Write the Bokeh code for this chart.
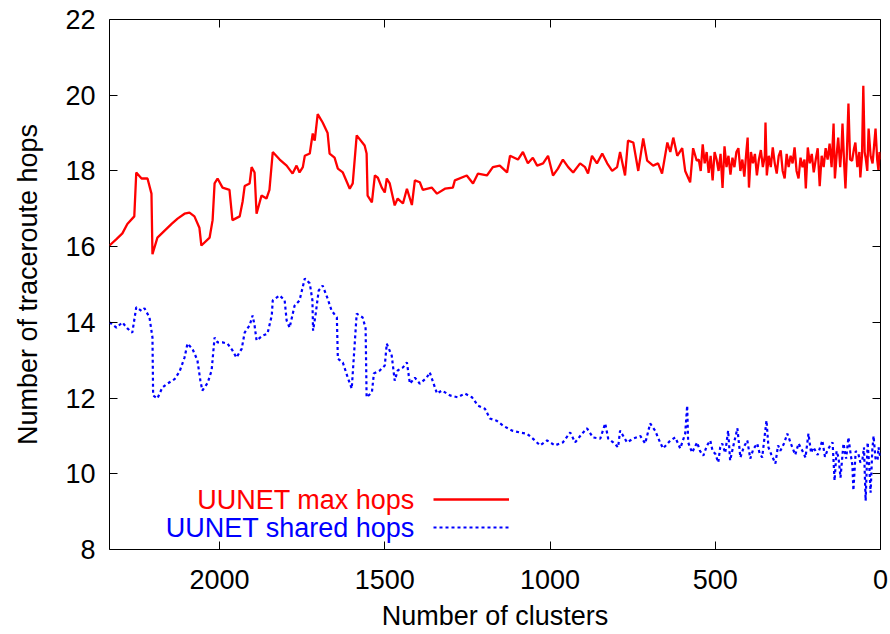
from bokeh.plotting import figure
from bokeh.models import (Range1d, FixedTicker, LinearAxis, Label, Legend, LegendItem)
from bokeh.embed import file_html
from bokeh.resources import INLINE

# ---------------- data ----------------
max_x = [2333, 2312, 2294, 2279, 2258, 2252, 2236, 2218, 2206, 2203, 2188, 2145, 2127, 2106, 2091,
         2076, 2061, 2055, 2030, 2021, 2015, 2006, 1991, 1970, 1961, 1939, 1930, 1924, 1909, 1903,
         1894, 1888, 1873, 1858, 1849, 1839, 1818, 1797, 1779, 1767, 1758, 1748, 1742, 1727, 1718,
         1712, 1703, 1688, 1673, 1667, 1652, 1642, 1627, 1606, 1597, 1585, 1561, 1555, 1552, 1539,
         1530, 1521, 1509, 1500, 1494, 1485, 1470, 1461, 1445, 1433, 1418, 1409, 1394, 1385, 1358,
         1342, 1318, 1294, 1288, 1252, 1233, 1218, 1191, 1173, 1152, 1130, 1121, 1097, 1082, 1067,
         1052, 1039, 1021, 1006, 991, 976, 961, 945, 930, 909, 894, 885, 873, 858, 842,
         827, 812, 797, 788, 773, 764, 748, 733, 718, 706, 688, 673, 661, 645, 636,
         627, 615, 600, 591, 576, 567, 556,
         550, 544, 538, 532, 526, 520, 514, 508, 502, 496, 490, 484, 478, 472, 466,
         460, 454, 448, 442, 436, 430, 424, 418, 412, 406, 402, 398, 392, 386, 380,
         374, 368, 362, 356, 350, 348, 344, 338, 332, 326, 320, 314, 308, 302, 296,
         290, 284, 278, 272, 266, 260, 254, 248, 242, 236, 230, 226, 220, 214, 208,
         202, 196, 190, 184, 178, 172, 166, 160, 154, 148, 142, 138, 132, 128, 122,
         118, 115, 110, 106, 102, 97, 92, 86, 80, 76, 70, 64, 61, 56, 52,
         48, 45, 40, 36, 30, 24, 20, 15, 10, 6, 3, 0]
max_hops = [16.03, 16.2, 16.35, 16.6, 16.8, 17.96, 17.8, 17.8, 17.4, 15.8, 16.24, 16.6, 16.74, 16.87, 16.9,
            16.8, 16.5, 16.03, 16.24, 16.7, 17.67, 17.8, 17.56, 17.5, 16.7, 16.8, 17.2, 17.6, 17.67, 18.1,
            17.96, 16.87, 17.35, 17.27, 17.5, 18.5, 18.3, 18.14, 17.93, 18.14, 17.96, 18.1, 18.4, 18.46, 18.99,
            18.8, 19.5, 19.28, 19.0, 18.46, 18.35, 18.06, 17.96, 17.53, 17.67, 18.94, 18.67, 18.46, 17.35, 17.17,
            17.88, 17.82, 17.56, 17.43, 17.8, 17.67, 17.09, 17.27, 17.14, 17.53, 17.1, 17.75, 17.7, 17.5, 17.56,
            17.4, 17.53, 17.56, 17.75, 17.88, 17.67, 17.93, 17.88, 18.1, 18.14, 17.96, 18.4, 18.3, 18.5, 18.2,
            18.35, 18.14, 18.2, 18.4, 17.88, 18.06, 18.3, 18.1, 17.96, 18.2, 18.1, 17.93, 18.4, 18.2, 18.46,
            18.2, 18.0, 18.1, 18.5, 17.88, 18.8, 18.75, 18.0, 18.86, 18.27, 18.14, 18.2, 17.93, 18.75, 18.5,
            18.88, 18.4, 18.6, 18.0, 17.7, 18.6, 18.27,
            18.3, 18.0, 18.7, 18.2, 18.5, 17.95, 18.4, 17.75, 18.5, 18.3, 18.0, 18.45, 17.55, 18.65, 18.1,
            18.4, 17.9, 18.35, 18.1, 18.5, 18.6, 18.0, 18.3, 17.85, 18.5, 18.88, 17.56, 18.5, 18.2, 18.45,
            17.88, 18.3, 18.55, 18.1, 18.4, 19.28, 17.88, 18.4, 18.1, 18.62, 18.2, 17.93, 18.4, 18.54, 18.0,
            17.8, 18.45, 18.1, 18.4, 18.2, 18.62, 18.0, 17.8, 18.35, 18.1, 18.3, 17.54, 18.62, 18.2, 18.45,
            17.96, 18.3, 18.6, 17.6, 18.4, 18.1, 18.6, 18.3, 18.72, 18.1, 19.25, 17.8, 18.5, 18.88, 18.1,
            18.6, 19.25, 18.2, 17.54, 18.4, 19.78, 18.3, 18.27, 18.6, 18.75, 18.1, 18.5, 17.83, 18.4, 20.25,
            18.5, 18.35, 18.0, 19.12, 18.4, 18.2, 18.6, 19.12, 18.3, 18.0, 18.5, 18.3]

shared_x = [2333, 2312, 2294, 2279, 2264, 2252, 2236, 2227, 2212, 2203, 2201, 2188, 2173, 2158, 2136,
            2121, 2106, 2097, 2082, 2067, 2058, 2052, 2036, 2024, 2015, 2006, 1991, 1976, 1961, 1949,
            1933, 1924, 1909, 1900, 1894, 1888, 1870, 1855, 1842, 1839, 1818, 1803, 1797, 1788, 1773,
            1758, 1742, 1727, 1719, 1717, 1709, 1700, 1688, 1673, 1661, 1645, 1642, 1627, 1612, 1600,
            1585, 1567, 1558, 1555, 1539, 1533, 1515, 1500, 1494, 1479, 1470, 1461, 1445, 1433, 1424,
            1409, 1394, 1373, 1364, 1342, 1327, 1303, 1279, 1258, 1236, 1218, 1197, 1182, 1161, 1142,
            1115, 1091, 1070, 1052, 1030, 1009, 985, 961, 939, 924, 903, 888, 870, 848, 833,
            824, 809, 794, 788, 767, 748, 727, 712, 697, 682, 667, 658, 636, 621, 606,
            591, 585, 582, 570, 555, 546, 536, 525, 515, 508, 500, 491, 485, 479, 470,
            461, 455, 445, 433, 424, 414, 403, 394, 385, 373, 366, 358, 345, 339, 330,
            318, 310, 303, 292, 282, 267, 258, 248, 236, 227, 218, 210, 203, 190, 176,
            168, 161, 152, 145, 139, 133, 127, 121, 112, 104, 97, 90, 85, 82, 75,
            67, 61, 55, 50, 45, 39, 34, 30, 25, 21, 15, 9, 6, 0]
shared_hops = [14.0, 13.86, 14.0, 13.84, 13.73, 14.4, 14.3, 14.37, 14.13, 13.6, 12.07, 11.99, 12.28, 12.38, 12.5,
               12.7, 13.07, 13.44, 13.3, 13.0, 12.46, 12.2, 12.4, 12.73, 13.6, 13.47, 13.47, 13.44, 13.26, 13.07,
               13.3, 13.73, 13.92, 14.18, 13.92, 13.52, 13.65, 13.7, 14.18, 14.58, 14.71, 14.58, 14.05, 13.86, 14.44,
               14.58, 15.16, 15.03, 14.58, 13.78, 14.23, 14.84, 14.97, 14.63, 14.31, 14.13, 13.04, 12.94, 12.54, 12.25,
               14.23, 14.13, 13.84, 12.02, 12.15, 12.65, 12.73, 12.86, 13.44, 13.12, 12.46, 12.73, 12.81, 12.94, 12.38,
               12.54, 12.38, 12.54, 12.68, 12.12, 12.2, 12.07, 12.02, 12.12, 12.02, 11.8, 11.72, 11.46, 11.4, 11.27,
               11.14, 11.09, 11.06, 10.93, 10.75, 10.88, 10.75, 10.83, 11.09, 10.83, 11.06, 11.2, 10.96, 10.93, 11.33,
               10.93, 10.83, 10.7, 11.14, 10.83, 10.93, 11.0, 10.8, 11.33, 11.14, 10.83, 10.67, 10.88, 10.96, 10.67,
               11.06, 11.8, 10.83, 10.56, 10.83, 10.6, 10.48, 10.75, 10.88, 10.6, 10.53, 10.3, 10.7, 10.8, 10.55,
               11.14, 10.35, 10.75, 11.2, 10.43, 10.7, 10.88, 10.4, 10.65, 10.8, 10.55, 10.43, 11.41, 10.7, 10.5,
               10.27, 10.75, 10.61, 10.8, 11.06, 10.7, 10.5, 10.8, 10.6, 10.43, 11.06, 10.55, 10.7, 10.5, 10.88,
               10.45, 10.61, 10.75, 10.83, 9.82, 10.6, 10.43, 9.9, 10.8, 10.4, 10.96, 10.5, 10.22, 9.56, 10.6,
               10.53, 10.3, 10.35, 10.7, 9.29, 10.83, 10.2, 9.5, 10.6, 11.0, 10.4, 10.35, 10.7, 10.4]

x_ticks = [0, 500, 1000, 1500, 2000]
y_ticks = [8, 10, 12, 14, 16, 18, 20, 22]
series_names = ["UUNET max hops", "UUNET shared hops"]
series_colors = ["#ff0000", "#0000ff"]

FONT = "Liberation Sans"

p = figure(width=888, height=634, output_backend="svg", toolbar_location=None,
           x_range=Range1d(2333, 0), y_range=Range1d(8, 22),
           min_border_left=109, min_border_right=8, min_border_top=19, min_border_bottom=85)
p.background_fill_color = "white"
p.border_fill_color = "white"
p.xgrid.visible = False
p.ygrid.visible = False
p.outline_line_color = "black"
p.outline_line_width = 1
p.outline_line_alpha = 1

r_max = p.line(max_x, max_hops, line_color=series_colors[0], line_width=2.3)
r_sh = p.line(shared_x, shared_hops, line_color=series_colors[1], line_width=2.2, line_dash="3 3")

def style_axis(ax, show_labels=True):
    ax.axis_line_color = None
    ax.major_tick_in = 8
    ax.major_tick_out = 0
    ax.minor_tick_line_color = None
    ax.major_tick_line_color = "black"
    ax.major_tick_line_width = 1
    if show_labels:
        ax.major_label_text_font = FONT
        ax.major_label_text_font_size = "27px"
        ax.major_label_text_color = "black"
        ax.axis_label_text_font = FONT
        ax.axis_label_text_font_size = "27px"
        ax.axis_label_text_font_style = "normal"
        ax.axis_label_text_color = "black"
    else:
        ax.major_label_text_font_size = "1px"
        ax.major_label_text_color = None
        ax.major_label_standoff = 0

p.xaxis.ticker = FixedTicker(ticks=x_ticks)
p.yaxis.ticker = FixedTicker(ticks=y_ticks)
p.xaxis.axis_label = "Number of clusters"
p.yaxis.axis_label = "Number of traceroute hops"
style_axis(p.xaxis[0])
style_axis(p.yaxis[0])
p.xaxis.major_label_standoff = 20
p.yaxis.major_label_standoff = 14
p.xaxis.axis_label_standoff = 9
p.yaxis.axis_label_standoff = 19

ax_r = LinearAxis(ticker=FixedTicker(ticks=y_ticks))
style_axis(ax_r, show_labels=False)
p.add_layout(ax_r, "right")
ax_t = LinearAxis(ticker=FixedTicker(ticks=x_ticks))
style_axis(ax_t, show_labels=False)
p.add_layout(ax_t, "above")

# legend: samples via Legend, coloured texts to their left
legend = Legend(items=[LegendItem(label=series_names[0], renderers=[r_max]),
                       LegendItem(label=series_names[1], renderers=[r_sh])],
                location=(324, 8), orientation="vertical",
                glyph_width=76, glyph_height=28, label_height=28,
                label_text_font_size="1px", label_text_color=None,
                padding=0, spacing=0, margin=0,
                border_line_color=None, background_fill_alpha=0)
p.add_layout(legend, "center")

for name, col, yy in zip(series_names, series_colors, [9.32, 8.58]):
    p.add_layout(Label(x=1409, y=yy, text=name, text_align="right", text_baseline="middle",
                       text_color=col, text_font=FONT, text_font_size="27px"))

open("out.html", "w").write(file_html(p, INLINE))
